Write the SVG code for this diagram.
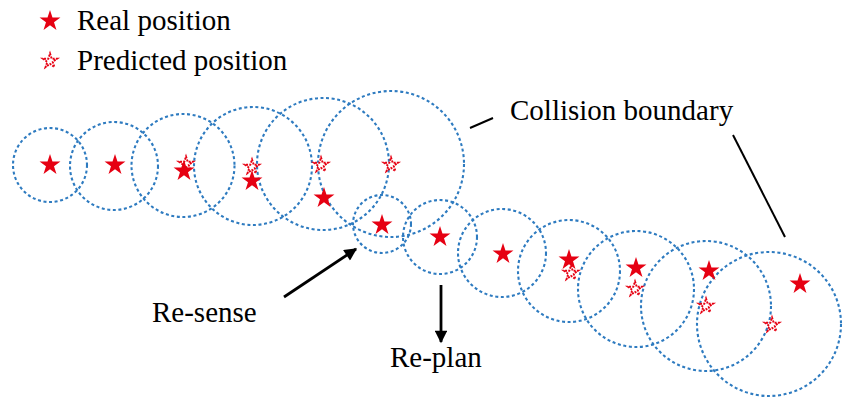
<svg xmlns="http://www.w3.org/2000/svg" width="846" height="400" viewBox="0 0 846 400">
<style>
.bd{fill:none;stroke:#2E7BC0;stroke-width:2.1;stroke-dasharray:3 2.6}
.real{fill:#E60012;stroke:none}
.pred{fill:#fff;stroke:#E60012;stroke-width:1.9;stroke-dasharray:2 1.2}
.lbl{font-family:"Liberation Serif","Times New Roman",serif;font-size:29px;fill:#000}
.lead{stroke:#000;stroke-width:2;fill:none}
.arr{stroke:#000;stroke-width:2.8;fill:none;marker-end:url(#ah)}
</style>
<defs>
<path id="rs" d="M0,-11 L2.47,-3.4 L10.46,-3.4 L4,1.3 L6.47,8.9 L0,4.2 L-6.47,8.9 L-4,1.3 L-10.46,-3.4 L-2.47,-3.4 Z"/>
<path id="ps" d="M0,-7.5 L1.684,-2.318 L7.133,-2.318 L2.725,0.885 L4.408,6.068 L0,2.865 L-4.408,6.068 L-2.725,0.885 L-7.133,-2.318 L-1.684,-2.318 Z"/>
<marker id="ah" viewBox="0 0 10 10" refX="9" refY="5" markerWidth="5" markerHeight="4.5" orient="auto" markerUnits="strokeWidth">
<path d="M0,0 L10,5 L0,10 Z" fill="#000"/>
</marker>
</defs>
<rect width="846" height="400" fill="#fff"/>
<g id="legend">
<use href="#rs" x="50" y="21" class="real"/>
<text class="lbl" x="77" y="30">Real position</text>
<use href="#ps" x="50" y="61" class="pred"/>
<text class="lbl" x="77" y="70">Predicted position</text>
</g>
<g id="boundaries">
<circle class="bd" cx="50" cy="165" r="37"/>
<circle class="bd" cx="114" cy="166" r="44"/>
<circle class="bd" cx="183" cy="165.5" r="51.5"/>
<circle class="bd" cx="253" cy="166" r="59"/>
<circle class="bd" cx="323" cy="164" r="66"/>
<circle class="bd" cx="391" cy="164" r="73"/>
<circle class="bd" cx="382" cy="224" r="29"/>
<circle class="bd" cx="440" cy="237" r="37"/>
<circle class="bd" cx="502" cy="253" r="44"/>
<circle class="bd" cx="569" cy="271" r="51"/>
<circle class="bd" cx="636" cy="289" r="58"/>
<circle class="bd" cx="706" cy="306" r="65"/>
<circle class="bd" cx="769" cy="324" r="72"/>
</g>
<g id="predicted">
<use href="#ps" x="186" y="164" class="pred"/>
<use href="#ps" x="252" y="167" class="pred"/>
<use href="#ps" x="321" y="165" class="pred"/>
<use href="#ps" x="391" y="165" class="pred"/>
<use href="#ps" x="571" y="273" class="pred"/>
<use href="#ps" x="635" y="289" class="pred"/>
<use href="#ps" x="706" y="306" class="pred"/>
<use href="#ps" x="772" y="325" class="pred"/>
</g>
<g id="real">
<use href="#rs" x="50" y="165" class="real"/>
<use href="#rs" x="115" y="165" class="real"/>
<use href="#rs" x="184" y="171" class="real"/>
<use href="#rs" x="252" y="181" class="real"/>
<use href="#rs" x="324" y="198" class="real"/>
<use href="#rs" x="382" y="225" class="real"/>
<use href="#rs" x="440" y="237" class="real"/>
<use href="#rs" x="503" y="254" class="real"/>
<use href="#rs" x="569" y="260" class="real"/>
<use href="#rs" x="636" y="268" class="real"/>
<use href="#rs" x="709" y="271" class="real"/>
<use href="#rs" x="800" y="284" class="real"/>
</g>
<g id="connectors">
<line class="lead" x1="470" y1="128" x2="493" y2="118"/>
<line class="lead" x1="733" y1="135" x2="785" y2="237"/>
<line class="arr" x1="284" y1="297" x2="356" y2="249"/>
<line class="arr" x1="441" y1="285" x2="441" y2="342"/>
</g>
<g id="labels">
<text class="lbl" x="510" y="120">Collision boundary</text>
<text class="lbl" x="152" y="322">Re-sense</text>
<text class="lbl" x="390" y="367">Re-plan</text>
</g>
</svg>
